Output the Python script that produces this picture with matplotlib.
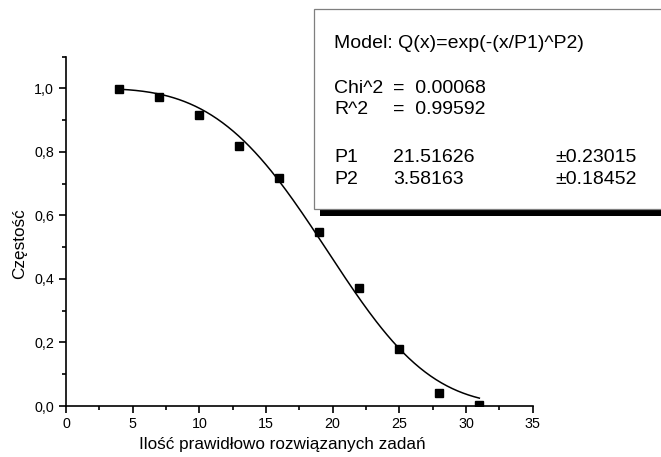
import numpy as np
import matplotlib.pyplot as plt
from matplotlib.patches import Rectangle
from matplotlib.ticker import MultipleLocator, FuncFormatter

plt.rcParams['font.family'] = ['Liberation Sans', 'DejaVu Sans']

# measured points
zadania = [4, 7, 10, 13, 16, 19, 22, 25, 28, 31]
czestosc = [0.998, 0.972, 0.916, 0.818, 0.718, 0.548, 0.372, 0.180, 0.042, 0.003]

# fit results shown in the box
P1, P1_err = 21.51626, 0.23015
P2, P2_err = 3.58163, 0.18452
chi2 = 0.00068
r2 = 0.99592

W, H = 661, 457
fig = plt.figure(figsize=(W / 100, H / 100), dpi=100)

ax = fig.add_axes([66 / W, 1 - 406 / H, (532.7 - 66) / W, (406 - 56.7) / H])

# fitted model line Q(x)=exp(-(x/P1)^P2) over the data range
xf = np.linspace(zadania[0], zadania[-1], 200)
ax.plot(xf, np.exp(-(xf / P1) ** P2), color='black', lw=1.1)
ax.plot(zadania, czestosc, 's', color='black', ms=6.3)

ax.set_xlim(0, 35)
ax.set_ylim(0, 1.1)
ax.xaxis.set_major_locator(MultipleLocator(5))
ax.xaxis.set_minor_locator(MultipleLocator(2.5))
ax.yaxis.set_major_locator(MultipleLocator(0.2))
ax.yaxis.set_minor_locator(MultipleLocator(0.1))
ax.yaxis.set_major_formatter(FuncFormatter(lambda v, p: f"{v:.1f}".replace('.', ',')))

for s in ['top', 'right']:
    ax.spines[s].set_visible(False)
for s in ['left', 'bottom']:
    ax.spines[s].set_linewidth(1.2)
ax.tick_params(which='major', direction='out', length=5, width=1.2, labelsize=10.3)
ax.tick_params(which='minor', direction='out', length=2.7, width=1.2)
ax.tick_params(axis='x', pad=3)
ax.tick_params(axis='y', pad=3.5)

ax.set_xlabel('Ilość prawidłowo rozwiązanych zadań', fontsize=12.3, va='baseline')
ax.xaxis.set_label_coords((282.5 - 66) / 466.7, (406 - 449) / 349.3)
ax.set_ylabel('Częstość', fontsize=12.3, va='center')
ax.yaxis.set_label_coords((20 - 66) / 466.7, (406 - 244) / 349.3)

# results box with shadow, running off the right edge
def fx(x):
    return x / W

def fy(y):
    return 1 - y / H

shadow = Rectangle((fx(320), fy(215.5)), fx(700 - 320), (215.5 - 16) / H,
                   transform=fig.transFigure, facecolor='black', edgecolor='none',
                   clip_on=False)
box = Rectangle((fx(314), fy(209.5)), fx(700 - 314), (209.5 - 9.3) / H,
                transform=fig.transFigure, facecolor='white', edgecolor='#7f7f7f',
                lw=0.9, clip_on=False)
fig.add_artist(shadow)
fig.add_artist(box)

fs = 14
c1, c2, c3 = 334, 393, 555
fig.text(fx(c1), fy(48), 'Model: Q(x)=exp(-(x/P1)^P2)', fontsize=fs, va='baseline')
fig.text(fx(c1), fy(93), 'Chi^2', fontsize=fs, va='baseline')
fig.text(fx(c2), fy(93), f'=  {chi2:.5f}', fontsize=fs, va='baseline')
fig.text(fx(c1), fy(114), 'R^2', fontsize=fs, va='baseline')
fig.text(fx(c2), fy(114), f'=  {r2:.5f}', fontsize=fs, va='baseline')
fig.text(fx(c1), fy(162), 'P1', fontsize=fs, va='baseline')
fig.text(fx(c2), fy(162), f'{P1:.5f}', fontsize=fs, va='baseline')
fig.text(fx(c3), fy(162), f'±{P1_err:.5f}', fontsize=fs, va='baseline')
fig.text(fx(c1), fy(184), 'P2', fontsize=fs, va='baseline')
fig.text(fx(c2), fy(184), f'{P2:.5f}', fontsize=fs, va='baseline')
fig.text(fx(c3), fy(184), f'±{P2_err:.5f}', fontsize=fs, va='baseline')

fig.savefig('out.png', dpi=100)
